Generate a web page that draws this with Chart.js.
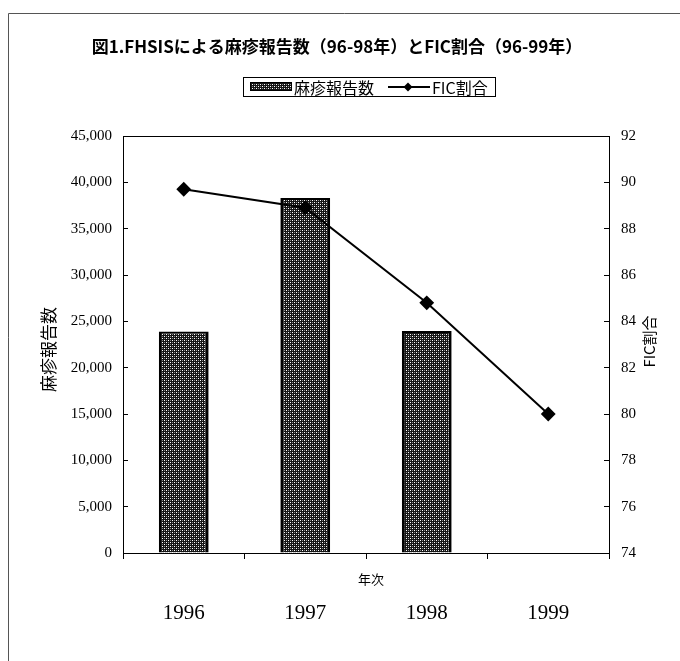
<!DOCTYPE html>
<html>
<head>
<meta charset="utf-8">
<script src="https://cdn.jsdelivr.net/npm/chart.js@4/dist/chart.umd.min.js"></script>
<style>
  html, body { margin: 0; padding: 0; background: #fff; }
  #wrap { position: relative; width: 680px; height: 661px; }
</style>
</head>
<body>
<div id="wrap"><canvas id="c" width="680" height="661"></canvas></div>
<script>
// Years on the category axis
const years = ['1996', '1997', '1998', '1999'];
// Measles case reports from FHSIS (1996–1998; no bar for 1999)
const measlesReports = [23900, 38300, 23950, null];
// Fully immunized child (FIC) coverage, %
const ficRate = [89.7, 88.9, 84.8, 80.0];

const chartTitle = '図1.FHSISによる麻疹報告数（96-98年）とFIC割合（96-99年）';
const barLabel = '麻疹報告数';
const lineLabel = 'FIC割合';
const xTitle = '年次';

const SERIF = '"Liberation Serif", "DejaVu Serif", serif';
const CJK = '"Noto Sans CJK JP", sans-serif';

// Dotted dark-grey fill used for the bars
function makeDotPattern() {
  const p = document.createElement('canvas');
  p.width = 4; p.height = 4;
  const g = p.getContext('2d');
  g.fillStyle = '#161616';
  g.fillRect(0, 0, 4, 4);
  g.fillStyle = '#ffffff';
  g.fillRect(0, 0, 1, 1);
  g.fillRect(2, 2, 1, 1);
  g.fillStyle = '#8a8a8a';
  g.fillRect(2, 0, 1, 1);
  g.fillRect(0, 2, 1, 1);
  return document.getElementById('c').getContext('2d').createPattern(p, 'repeat');
}
const dots = makeDotPattern();

// Frame, titles, legend and the plot box
const decorations = {
  id: 'decorations',
  afterDraw(chart) {
    const ctx = chart.ctx;
    const a = chart.chartArea;
    ctx.save();

    // page frame
    ctx.strokeStyle = '#555';
    ctx.lineWidth = 1;
    ctx.beginPath();
    ctx.moveTo(680, 13.5); ctx.lineTo(8.5, 13.5); ctx.lineTo(8.5, 661);
    ctx.stroke();

    // plot box
    ctx.strokeStyle = '#000';
    ctx.lineWidth = 1;
    ctx.strokeRect(Math.round(a.left) + 0.5, Math.round(a.top) + 0.5,
                   Math.round(a.right - a.left), Math.round(a.bottom - a.top));

    // chart title
    ctx.fillStyle = '#000';
    ctx.font = 'bold 17px ' + CJK;
    ctx.textAlign = 'center';
    ctx.textBaseline = 'middle';
    ctx.fillText(chartTitle, 337, 47);

    // legend
    const lx = 243, ly = 77, lw = 252, lh = 19;
    ctx.strokeStyle = '#000';
    ctx.lineWidth = 1;
    ctx.strokeRect(lx + 0.5, ly + 0.5, lw, lh);
    ctx.fillStyle = dots;
    ctx.fillRect(250, 82, 42, 9);
    ctx.strokeRect(250.5, 82.5, 41, 8);
    ctx.fillStyle = '#000';
    ctx.font = '16px ' + CJK;
    ctx.textAlign = 'left';
    ctx.fillText(barLabel, 294, ly + lh / 2 + 1);
    ctx.lineWidth = 2;
    ctx.beginPath();
    ctx.moveTo(388, 87); ctx.lineTo(430, 87);
    ctx.stroke();
    ctx.beginPath();
    ctx.moveTo(408, 82.5); ctx.lineTo(412.5, 87); ctx.lineTo(408, 91.5); ctx.lineTo(403.5, 87);
    ctx.closePath();
    ctx.fill();
    ctx.fillText(lineLabel, 432, ly + lh / 2 + 1);

    // axis titles
    const midY = (a.top + a.bottom) / 2;
    ctx.font = '17px ' + CJK;
    ctx.textAlign = 'center';
    ctx.save();
    ctx.translate(49, midY + 5);
    ctx.rotate(-Math.PI / 2);
    ctx.fillText(barLabel, 0, 0);
    ctx.restore();

    ctx.font = '15px ' + CJK;
    ctx.save();
    ctx.translate(649, midY - 3);
    ctx.rotate(-Math.PI / 2);
    ctx.fillText(lineLabel, 0, 0);
    ctx.restore();

    ctx.font = '13px ' + CJK;
    ctx.fillText(xTitle, (a.left + a.right) / 2 + 5, a.bottom + 26);

    ctx.restore();
  }
};

new Chart(document.getElementById('c'), {
  type: 'bar',
  data: {
    labels: years,
    datasets: [
      {
        type: 'line',
        label: lineLabel,
        data: ficRate,
        yAxisID: 'y1',
        borderColor: '#000',
        backgroundColor: '#000',
        borderWidth: 2,
        pointStyle: 'rectRot',
        pointRadius: 6,
        pointHoverRadius: 6,
        tension: 0,
        order: 0
      },
      {
        type: 'bar',
        label: barLabel,
        data: measlesReports,
        yAxisID: 'y',
        backgroundColor: dots,
        borderColor: '#000',
        borderWidth: { left: 3, right: 3, top: 2, bottom: 0 },
        borderSkipped: 'bottom',
        categoryPercentage: 1,
        barPercentage: 0.41,
        order: 1
      }
    ]
  },
  options: {
    responsive: false,
    animation: false,
    events: [],
    layout: { padding: { top: 136, left: 0, right: 0, bottom: 0 } },
    plugins: {
      legend: { display: false },
      title: { display: false },
      tooltip: { enabled: false }
    },
    scales: {
      x: {
        offset: true,
        grid: { offset: true, drawOnChartArea: false, drawTicks: true, tickLength: 6, color: '#000' },
        border: { color: '#000', width: 1 },
        ticks: { color: '#000', font: { family: SERIF, size: 21 }, padding: 42, maxRotation: 0 },
        afterFit(s) { s.height = 108; }
      },
      y: {
        position: 'left',
        min: 0, max: 45000,
        ticks: {
          stepSize: 5000,
          color: '#000',
          font: { family: SERIF, size: 15 },
          padding: 16,
          callback: v => v.toLocaleString('en-US')
        },
        grid: { drawOnChartArea: false, drawTicks: true, tickLength: -5, color: '#000' },
        border: { color: '#000', width: 1 },
        afterFit(s) { s.width = 123; }
      },
      y1: {
        position: 'right',
        min: 74, max: 92,
        ticks: { stepSize: 2, color: '#000', font: { family: SERIF, size: 15 }, padding: 17 },
        grid: { drawOnChartArea: false, drawTicks: true, tickLength: -5, color: '#000' },
        border: { color: '#000', width: 1 },
        afterFit(s) { s.width = 71; }
      }
    }
  },
  plugins: [decorations]
});
</script>
</body>
</html>
